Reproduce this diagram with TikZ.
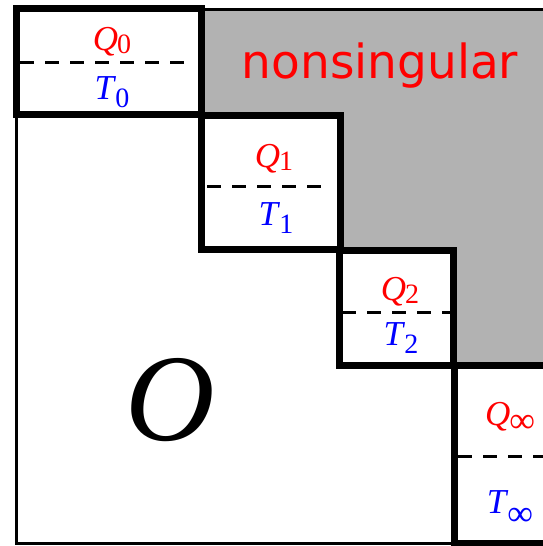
\documentclass[tikz,border=0pt]{standalone}
\usepackage{fontspec}
\setmainfont{Liberation Serif}
\newfontfamily\labsans{DejaVu Sans}
\newcommand\qsub[2]{\textit{#1}\kern-1pt\raisebox{-3pt}{\fontsize{28}{28}\selectfont #2}}
\newcommand\tsub[2]{\textit{#1}\kern-1pt\raisebox{-8pt}{\fontsize{28}{28}\selectfont #2}}
\newcommand\qsubinf[1]{\textit{#1}\kern-1pt\raisebox{-7pt}{\fontsize{36}{36}\selectfont ∞}}
\newcommand\tsubinf[1]{\textit{#1}\kern-1pt\raisebox{-12pt}{\fontsize{36}{36}\selectfont ∞}}
\begin{document}
\begin{tikzpicture}[x=1pt,y=-1pt,
  thickbox/.style={draw=black,line width=7pt},
  thinbox/.style={draw=black,line width=3pt},
  sepline/.style={draw=black,line width=3pt,dash pattern=on 14pt off 11pt},
  qlab/.style={text=red,font=\fontsize{35}{35}\selectfont,anchor=base,inner sep=0pt},
  tlab/.style={text=blue,font=\fontsize{35}{35}\selectfont,anchor=base,inner sep=0pt}]
\useasboundingbox (0,0) rectangle (542,546);
% grey nonsingular region
\fill[black!30] (201,9.5) -| (548,365) -| (453.5,250) -| (340,115) -| (201,9.5) -- cycle;
% outer frame
\draw[thinbox] (16.5,9.5) rectangle (548,543.5);
% blocks
\draw[thickbox] (16.5,8.5) rectangle (201,114.5);
\draw[thickbox] (201,115) rectangle (340,249.5);
\draw[thickbox] (339.5,250) rectangle (453.5,365);
\draw[thickbox] (454,365) rectangle (570,543.5);
% separators
\coordinate (s0a) at (20,62);  \coordinate (s0b) at (195,62);
\coordinate (s1a) at (207,186); \coordinate (s1b) at (330,186);
\coordinate (s2a) at (342,312); \coordinate (s2b) at (452,312);
\coordinate (s3a) at (458,456); \coordinate (s3b) at (560,456);
\draw[sepline] (s0a) -- (s0b);
\draw[sepline] (s1a) -- (s1b);
\draw[sepline] (s2a) -- (s2b);
\draw[sepline] (s3a) -- (s3b);
% labels
\node[qlab] (q0) at (112,50) {\qsub{Q}{0}};
\node[tlab] (t0) at (112,99) {\tsub{T}{0}};
\node[qlab] (q1) at (274,167) {\qsub{Q}{1}};
\node[tlab] (t1) at (276,225) {\tsub{T}{1}};
\node[qlab] (q2) at (400,300) {\qsub{Q}{2}};
\node[tlab] (t2) at (401,345) {\tsub{T}{2}};
\node[qlab] (qi) at (510,425) {\qsubinf{Q}};
\node[tlab] (ti) at (510,513) {\tsubinf{T}};
\node[text=red,font=\labsans\fontsize{47}{47}\selectfont,anchor=base,inner sep=0pt] (ns) at (380,78) {nonsingular};
\node[font=\fontsize{124}{124}\selectfont,anchor=base,inner sep=0pt] (o) at (170,440) {\textit{O}};
\end{tikzpicture}
\end{document}
